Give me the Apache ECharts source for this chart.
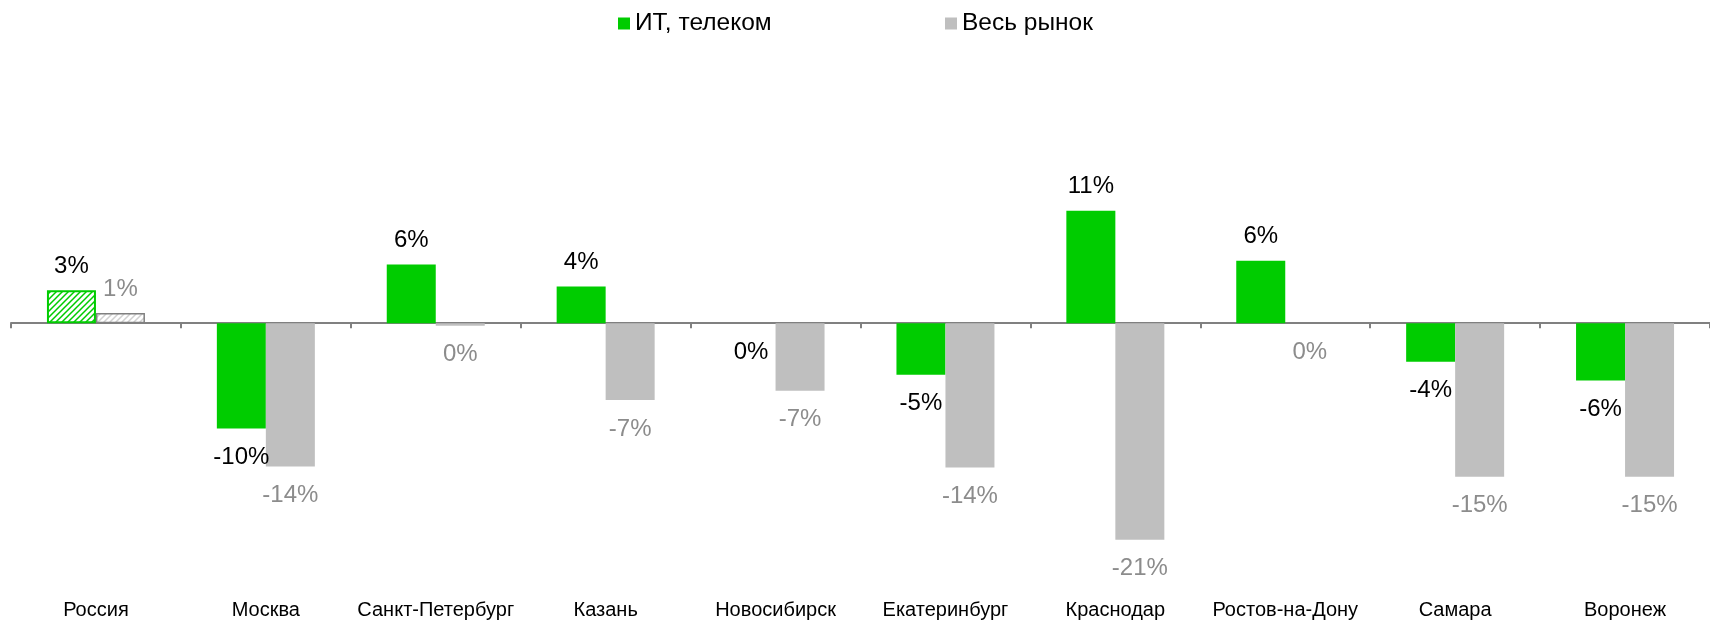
<!DOCTYPE html>
<html>
<head>
<meta charset="utf-8">
<script src="https://cdn.jsdelivr.net/npm/echarts@6.0.0/dist/echarts.min.js"></script>
<style>
  html, body { margin: 0; padding: 0; background: #fff; }
  #chart { width: 1710px; height: 620px; }
</style>
</head>
<body>
<div id="chart"></div>
<script>
const CATEGORIES = [
  "Россия", "Москва", "Санкт-Петербург", "Казань", "Новосибирск",
  "Екатеринбург", "Краснодар", "Ростов-на-Дону", "Самара", "Воронеж",
];
const SERIES_NAMES = ["ИТ, телеком", "Весь рынок"];
// изменение, %
const IT_TELECOM = [3.2, -10.2, 5.7, 3.55, 0, -5.0, 10.9, 6.05, -3.75, -5.55];
const WHOLE_MARKET = [1.0, -13.9, -0.25, -7.45, -6.55, -14.0, -21.0, 0, -14.9, -14.9];

const GREEN = "#00CC00";
const GREY = "#BFBFBF";
const FONT = "Arial, 'Liberation Sans', sans-serif";

// штриховка для столбца «Россия»
function hatch(lineColor) {
  const c = document.createElement("canvas");
  c.width = 6;
  c.height = 6;
  const g = c.getContext("2d");
  g.fillStyle = "#fff";
  g.fillRect(0, 0, 6, 6);
  g.strokeStyle = lineColor;
  g.lineWidth = 1.5;
  g.beginPath();
  g.moveTo(0, 6); g.lineTo(6, 0);
  g.moveTo(-1, 1); g.lineTo(1, -1);
  g.moveTo(5, 7); g.lineTo(7, 5);
  g.stroke();
  return { image: c, repeat: "repeat" };
}

// нулевые значения подписываются под осью, как в оригинале
function toData(values, first) {
  return values.map((v, i) => {
    const item = {
      value: v,
      label: v <= 0 ? { position: "bottom", distance: 17 } : { position: "top", distance: 12 },
    };
    if (i === 0) item.itemStyle = first;
    return item;
  });
}

const fmt = (p) => `${Math.round(p.value)}%`;

const legendBase = {
  top: 6,
  icon: "rect", itemWidth: 12, itemHeight: 12,
  textStyle: { fontSize: 24.5, color: "#000", fontFamily: FONT },
};

const chart = echarts.init(document.getElementById("chart"), null, { renderer: "canvas" });
chart.setOption({
  animation: false,
  backgroundColor: "#fff",
  textStyle: { fontFamily: FONT },
  grid: { left: 11, top: 168.5, width: 1708, height: 413.2 },
  legend: [
    { ...legendBase, data: [SERIES_NAMES[0]], left: 613 },
    { ...legendBase, data: [SERIES_NAMES[1]], left: 940 },
  ],
  xAxis: [
    {
      type: "category",
      data: CATEGORIES,
      position: "bottom",
      axisLine: { onZero: true, lineStyle: { color: "#808080", width: 2 } },
      axisTick: { show: true, length: 5, lineStyle: { color: "#808080", width: 2 } },
      axisLabel: { show: false },
    },
    {
      type: "category",
      data: CATEGORIES,
      position: "bottom",
      axisLine: { show: false, onZero: false },
      axisTick: { show: false },
      axisLabel: { interval: 0, margin: 19, fontSize: 20, color: "#000", fontFamily: FONT },
    },
  ],
  yAxis: { type: "value", min: -25, max: 15, show: false, splitLine: { show: false } },
  series: [
    {
      name: SERIES_NAMES[0],
      type: "bar",
      barWidth: 49,
      barGap: "0%",
      itemStyle: { color: GREEN },
      label: { show: true, formatter: fmt, fontSize: 24, color: "#000", fontFamily: FONT },
      data: toData(IT_TELECOM, { color: hatch(GREEN), borderColor: GREEN, borderWidth: 2 }),
    },
    {
      name: SERIES_NAMES[1],
      type: "bar",
      barWidth: 49,
      barGap: "0%",
      itemStyle: { color: GREY },
      label: { show: true, formatter: fmt, fontSize: 24, color: "#8C8C8C", fontFamily: FONT },
      data: toData(WHOLE_MARKET, { color: hatch("#D0D0D0"), borderColor: "#808080", borderWidth: 1.5 }),
    },
  ],
});
</script>
</body>
</html>
